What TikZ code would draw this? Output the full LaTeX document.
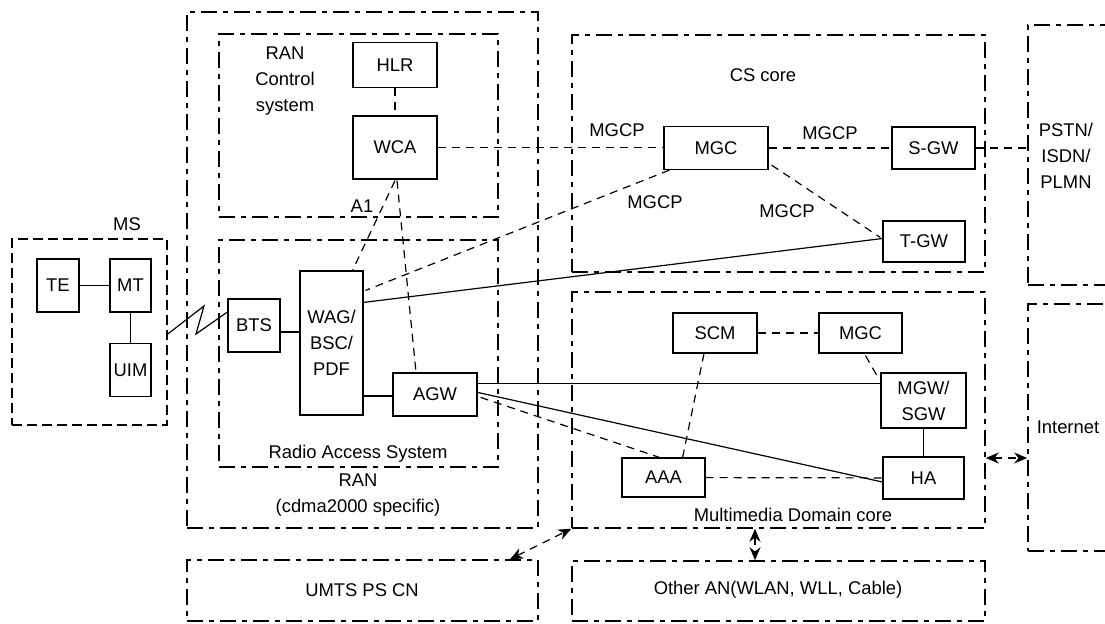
\documentclass[tikz,border=0pt]{standalone}
\usepackage{fontspec}
\setmainfont{Liberation Sans}
\usetikzlibrary{arrows.meta,calc,fit}

\begin{document}
\begin{tikzpicture}[
x=0.5pt, y=-0.5pt,
font=\fontsize{9.2}{13}\selectfont,
box/.style={draw, line width=.6pt, inner sep=0pt, align=center},
region/.style={draw, inner sep=0pt, line width=.8pt, dash pattern=on 8pt off 3pt on 2.5pt off 3pt},
msregion/.style={draw, inner sep=0pt, line width=.8pt, dash pattern=on 5pt off 2.5pt},
link/.style={line width=.6pt},
dlink/.style={line width=.6pt, dash pattern=on 4pt off 3pt},
twoway/.style={dlink, {Stealth[length=6.5pt,width=5.5pt]}-{Stealth[length=6.5pt,width=5.5pt]}}
]

%% Page
\useasboundingbox (0,0) rectangle (1105,623);
\clip (0,0) rectangle (1105,623);

%% Regions
\node[msregion, fit={(12,239)(167,425)}] (ms) {};
\node[region, fit={(187,12)(538,528)}] (ran) {};
\node[region, fit={(219,34)(498,217)}] (ranctl) {};
\node[region, fit={(219,240)(498,467)}] (ras) {};
\node[region, fit={(572,35)(985,272)}] (cs) {};
\node[region, fit={(572,292)(985,528)}] (mdc) {};
\node[region, fit={(1028,25)(1140,285)}] (pstn) {};
\node[region, fit={(1028,304)(1140,551)}] (inet) {};
\node[region, fit={(187,560)(538,621)}] (umts) {};
\node[region, fit={(572,561)(985,621)}] (oan) {};

%% Region labels
\node at (127,224) {MS};
\node[align=center] at (285,81) {RAN\\Control\\system};
\node at (763,75) {CS core};
\node at (358,454) {Radio Access System};
\node[align=center] at (358,495) {RAN\\(cdma2000 specific)};
\node at (793,515) {Multimedia Domain core};
\node[align=center] at (1066,156) {PSTN/\\ISDN/\\PLMN};
\node at (1068,427) {Internet};
\node at (362,590) {UMTS PS CN};
\node at (778,590) {Other AN(WLAN, WLL, Cable)};

%% MS
\node[box, minimum width=21pt, minimum height=26.5pt] (te) at (58,285.5) {TE};
\node[box, minimum width=20.5pt, minimum height=26.5pt] (mt) at (130.5,285.5) {MT};
\node[box, minimum width=20.5pt, minimum height=26.5pt] (uim) at (130.5,370) {UIM};

%% RAN
\node[box, minimum width=42pt, minimum height=22.5pt] (hlr) at (395,65) {HLR};
\node[box, minimum width=42pt, minimum height=31.5pt] (wca) at (395,147.5) {WCA};
\node[box, minimum width=26pt, minimum height=26.5pt] (bts) at (254,325.5) {BTS};
\node[box, minimum width=31.5pt, minimum height=72pt] (wag) at (331.5,343) {WAG/\\BSC/\\PDF};
\node[box, minimum width=42pt, minimum height=21.5pt] (agw) at (435,394.5) {AGW};

%% CS core
\node[box, minimum width=52pt, minimum height=21.5pt] (mgc) at (716,148) {MGC};
\node[box, minimum width=41.5pt, minimum height=21pt] (sgw) at (933.5,148) {S-GW};
\node[box, minimum width=41pt, minimum height=20.5pt] (tgw) at (924,241.5) {T-GW};

%% Multimedia Domain core
\node[box, minimum width=42pt, minimum height=20pt] (scm) at (715,333) {SCM};
\node[box, minimum width=41.5pt, minimum height=20pt] (mgcm) at (860.5,333) {MGC};
\node[box, minimum width=42.5pt, minimum height=27.5pt] (mgw) at (923.5,400.5) {MGW/\\SGW};
\node[box, minimum width=41.5pt, minimum height=19.5pt] (aaa) at (663.5,477.5) {AAA};
\node[box, minimum width=40.5pt, minimum height=21pt] (ha) at (923.5,478) {HA};

%% Links in MS and RAN
\draw[link] (te) -- (mt);
\draw[link] (mt) -- (uim);
\draw[link] (ms.east |- 0,334) -- (204,306) -- (196,334) -- (bts.west |- 0,312);
\draw[link] (bts.east |- 0,332) -- (wag.west |- 0,332);
\draw[link] (wag.east |- 0,396) -- (agw.west |- 0,396);
\draw[dlink] (hlr) -- (wca);
\draw[dlink] ($(wca.south)+(0,1)$) -- ($(wag.north)+(21,0)$);
\draw[dlink] ($(wca.south)+(2,1)$) -- ($(agw.north)+(-19,0)$);
\node at (362,206) {A1};

%% Links to CS core
\draw[dlink] (wca.east) -- (wca.east -| mgc.west);
\draw[dlink] (mgc.east) -- (sgw.west);
\draw[dlink] (sgw.east) -- (sgw.east -| pstn.west);
\draw[dlink] ($(mgc.south west)+(6,0)$) -- ($(wag.north east)+(2,20)$);
\draw[dlink] ($(mgc.south east)+(3,-5)$) -- ($(tgw.west)+(-2,-4)$);
\draw[link] ($(wag.north east)+(0,32)$) -- ($(tgw.west)+(0,-3)$);
\node at (617,130) {MGCP};
\node at (830,133) {MGCP};
\node at (655,202) {MGCP};
\node at (787,211) {MGCP};

%% Links to Multimedia Domain core
\draw[link] ($(agw.north east)+(0,11)$) coordinate (a) -- (a -| mgw.west);
\draw[link] ($(agw.north east)+(0,20)$) -- ($(ha.west)+(0,4)$);
\draw[dlink] ($(agw.north east)+(3,25)$) -- ($(aaa.north)+(-4,0)$);
\draw[dlink] (scm) -- (mgcm);
\draw[dlink] ($(scm.south)+(-11,0)$) -- ($(aaa.north east)+(-23,0)$);
\draw[dlink] ($(mgcm.south)+(5,2)$) -- ($(mgw.north west)+(-3,4)$);
\draw[link] (mgw) -- (ha);
\draw[dlink] (aaa) -- (ha);

%% Between regions
\draw[twoway] (mdc.east |- 0,458) -- (inet.west |- 0,458);
\draw[twoway] (umts.north -| 510,0) -- (mdc.south west);
\draw[twoway] (mdc.south -| 755,0) -- (oan.north -| 755,0);

\end{tikzpicture}
\end{document}
